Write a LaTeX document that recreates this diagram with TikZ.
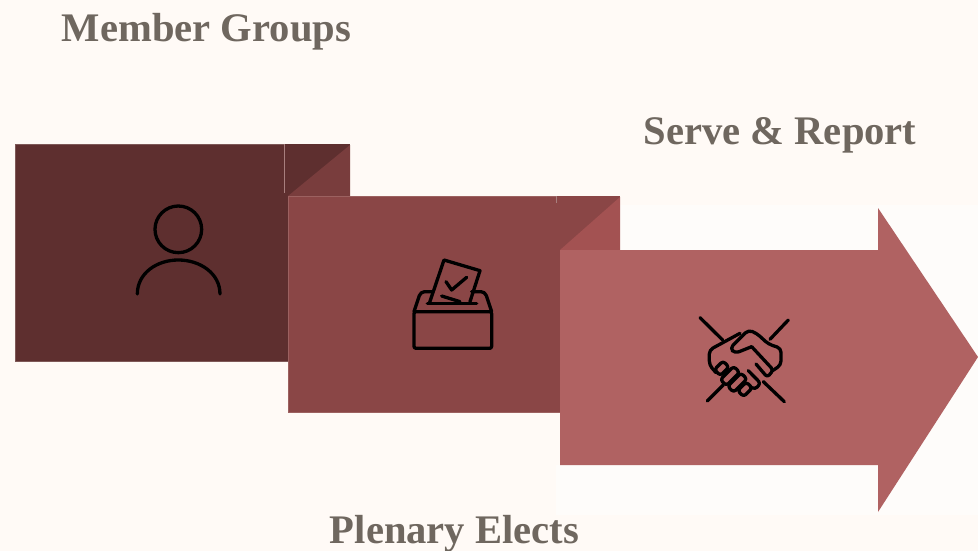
\documentclass[tikz,border=0pt]{standalone}
\usepackage{fontspec}
\setmainfont{Liberation Serif}
\usepackage{xcolor}
\definecolor{paper}{HTML}{FFFAF6}
\definecolor{paperb}{HTML}{FEFCFA}
\definecolor{heading}{HTML}{6F675F}
\definecolor{darkbox}{HTML}{5E2F2F}
\definecolor{darkfold}{HTML}{793D3D}
\definecolor{midbox}{HTML}{8A4646}
\definecolor{midfold}{HTML}{A35252}
\definecolor{lightbox}{HTML}{B06262}
\tikzstyle{title} = [text=heading, font=\bfseries\fontsize{40.6}{44}\selectfont, inner sep=0pt]
\tikzstyle{block} = [rectangle, inner sep=0pt, minimum width=273pt, minimum height=217pt]
\tikzstyle{icon} = [black, line width=3.3pt, line cap=round, line join=round]
\tikzstyle{seam} = [paper!35!darkfold, line width=0.4pt]
\begin{document}
\begin{tikzpicture}[x=1pt,y=-1pt]
        \useasboundingbox [fill=paper] (0,0) rectangle (978,551);
        \fill [paperb] (620,205) rectangle (978,515);
        \fill [paperb] (556,465) rectangle (620,515);
        % first box and its fold
        \node (members) [block, fill=darkbox, draw=darkbox!80!paper, anchor=north west] at (15,144) {};
        \fill [darkbox] (284,144) -- (350,144) -- (350,196) -- (284,196) -- cycle;
        \fill [darkfold] (350,145) -- (350,196) -- (288,196) -- cycle;
        \draw [seam] (284,144) -- (284,193);
        % second box and its fold
        \node (plenary) [block, fill=midbox, draw=midbox!85!paper, minimum width=272pt, minimum height=216pt, anchor=north west] at (288,196) {};
        \fill [midbox] (556,196) -- (620,196) -- (620,250) -- (556,250) -- cycle;
        \fill [midfold] (620,197) -- (620,250) -- (560,250) -- cycle;
        \draw [seam] (556,196) -- (556,203);
        % arrow
        \fill [lightbox] (560,250) -- (878,250) -- (878,208) -- (978,357) -- (878,512) -- (878,465) -- (560,465) -- cycle;

        \node (groups) [title] at (206.5,31.5) {Member Groups};
        \node (serve) [title] at (780,135) {Serve \& Report};
        \node (elects) [title] at (454.5,534) {Plenary Elects};

        % person
        \begin{scope}[shift={(120,190)}, x=0.3333pt, y=-0.3333pt]
                \draw [icon] (175,118) circle [radius=70];
                \draw [icon] (52,312) .. controls (52,250) and (110,210) .. (175,210) .. controls (240,210) and (300,250) .. (300,312);
        \end{scope}
        % ballot box
        \begin{scope}[shift={(400,250)}, x=0.3333pt, y=-0.3333pt]
                \draw [icon, rounded corners=2pt] (42,185) rectangle (275,295);
                \draw [icon, rounded corners=4pt] (42,185) -- (62,125) -- (100,125);
                \draw [icon, rounded corners=4pt] (275,185) -- (255,125) -- (215,125);
                \draw [icon] (82,160) -- (230,160);
                \draw [icon] (88,160) -- (132,30) -- (240,62) -- (210,155);
                \draw [icon] (138,95) -- (155,120) -- (200,82);
                \draw [icon] (125,138) -- (180,155);
        \end{scope}
        % handshake
        \begin{scope}[shift={(680,300)}, x=0.3333pt, y=-0.3333pt]
                \draw [icon] (60,53) -- (128,120);
                \draw [icon] (250,245) -- (313,305);
                \draw [icon] (325,60) -- (270,118);
                \draw [icon] (130,255) -- (82,303);
                \draw [icon, rounded corners=4pt] (180,100) -- (88,150) -- (88,195) -- (108,218);
                \draw [icon, rounded corners=4pt] (215,140) -- (165,160) -- (150,145) -- (205,90) -- (230,100) -- (265,132) -- (303,145) -- (303,195) -- (278,212);
                \draw [icon, rounded corners=3pt] (215,140) -- (280,210) -- (262,232) -- (228,192);
                \draw [icon, rounded corners=3pt] (205,212) -- (242,250) -- (225,268) -- (210,260);
                \foreach \cx/\cy/\len in {125/205/13, 150/228/20, 172/248/20, 195/268/13}
                        \draw [icon, rounded corners=3pt] (\cx,\cy) ++({-\len-9},{\len-9}) -- ++(18,18) -- ++({2*\len},{-2*\len}) -- ++(-18,-18) -- cycle;
        \end{scope}
     \end{tikzpicture}
\end{document}
